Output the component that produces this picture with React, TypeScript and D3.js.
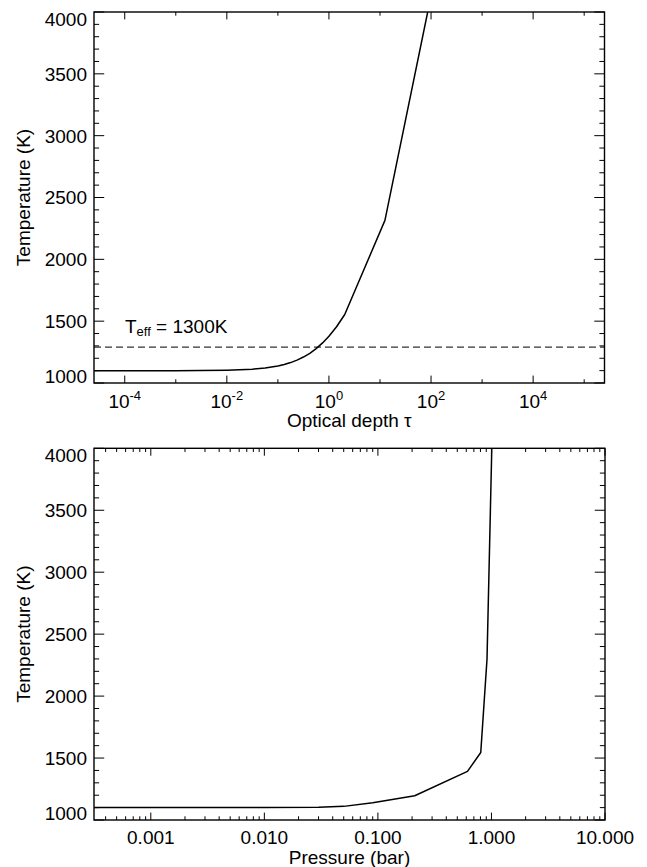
import React from "react";
import * as d3 from "d3";

// ---- Data ----
const tauValues = [
  2.5e-5, 1e-3, 3e-3, 1e-2, 0.0178, 0.0316, 0.0562, 0.1, 0.133, 0.178, 0.237, 0.316,
  0.422, 0.562, 0.75, 1.0, 1.41, 2.04, 12.5, 86,
];
const tauTemps = [
  1100, 1100, 1101, 1104, 1107, 1112, 1122, 1138, 1150, 1165, 1185, 1210,
  1240, 1278, 1324, 1378, 1455, 1554, 2315, 4000,
];

const pressureValues = [3.16e-4, 0.01, 0.03, 0.05, 0.09, 0.211, 0.615, 0.805, 0.914, 1.007];
const pressureTemps = [1100, 1100, 1102, 1110, 1140, 1196, 1392, 1545, 2300, 4000];

const teffLine = 1290;
const tauDomain = [2.5e-5, 2.5e5];
const pressureDomain = [3.16e-4, 10];
const tempDomain = [1000, 4000];

const tauMajorTicks = [1e-4, 1e-2, 1, 1e2, 1e4];
const tauMinorTicks = [1e-3, 1e-1, 10, 1e3, 1e5];
const pressureMajorTicks = [0.001, 0.01, 0.1, 1, 10];
const pressureTickLabels = ["0.001", "0.010", "0.100", "1.000", "10.000"];
const tempMajorTicks = [1000, 1500, 2000, 2500, 3000, 3500, 4000];

const FONT = "'Liberation Sans', Arial, Helvetica, sans-serif";
const FS = 19;

type Box = { left: number; right: number; top: number; bottom: number };

function YAxis({ y, box }: { y: d3.ScaleLinear<number, number>; box: Box }) {
  const minor = d3.range(tempDomain[0], tempDomain[1] + 1, 100);
  const W = box.right - box.left;
  const majLen = 0.02 * W;
  return (
    <g>
      {minor.map((t) => {
        const major = tempMajorTicks.includes(t);
        const len = major ? majLen : majLen / 2;
        const yy = y(t);
        return (
          <g key={t}>
            <line x1={box.left} x2={box.left + len} y1={yy} y2={yy} stroke="#000" strokeWidth={1} />
            <line x1={box.right} x2={box.right - len} y1={yy} y2={yy} stroke="#000" strokeWidth={1} />
          </g>
        );
      })}
      {tempMajorTicks.map((t, i) => {
        const yy = y(t);
        let base = yy + FS * 0.36;
        if (i === 0) base = yy;
        if (i === tempMajorTicks.length - 1) base = yy + FS * 0.716;
        return (
          <text key={t} x={box.left - 7} y={base} textAnchor="end" fontSize={FS} fontFamily={FONT}>
            {t}
          </text>
        );
      })}
      <text
        transform={`translate(${29.5},${(box.top + box.bottom) / 2}) rotate(-90)`}
        textAnchor="middle"
        fontSize={FS}
        fontFamily={FONT}
      >
        Temperature (K)
      </text>
    </g>
  );
}

function Frame({ box }: { box: Box }) {
  return (
    <rect
      x={box.left}
      y={box.top}
      width={box.right - box.left}
      height={box.bottom - box.top}
      fill="none"
      stroke="#000"
      strokeWidth={1.4}
    />
  );
}

function XTicks({ xs, box, len }: { xs: number[]; box: Box; len: number }) {
  return (
    <g>
      {xs.map((xx, i) => (
        <g key={i}>
          <line x1={xx} x2={xx} y1={box.bottom} y2={box.bottom - len} stroke="#000" strokeWidth={1} />
          <line x1={xx} x2={xx} y1={box.top} y2={box.top + len} stroke="#000" strokeWidth={1} />
        </g>
      ))}
    </g>
  );
}

export default function App() {
  const topBox: Box = { left: 94, right: 604.5, top: 12, bottom: 383 };
  const botBox: Box = { left: 94, right: 605, top: 448.3, bottom: 820 };

  const xTau = d3.scaleLog().domain(tauDomain).range([topBox.left, topBox.right]);
  const yTop = d3.scaleLinear().domain(tempDomain).range([topBox.bottom, topBox.top]);
  const xP = d3.scaleLog().domain(pressureDomain).range([botBox.left, botBox.right]);
  const yBot = d3.scaleLinear().domain(tempDomain).range([botBox.bottom, botBox.top]);

  const topLine = d3
    .line<number>()
    .x((_, i) => xTau(tauValues[i]))
    .y((d) => yTop(d))(tauTemps) as string;
  const botLine = d3
    .line<number>()
    .x((_, i) => xP(pressureValues[i]))
    .y((d) => yBot(d))(pressureTemps) as string;

  const topXMaj = 0.02 * (topBox.bottom - topBox.top);
  const botXMaj = 0.02 * (botBox.bottom - botBox.top);

  const pMinor = xP
    .ticks()
    .filter((v) => !pressureMajorTicks.some((m) => Math.abs(v / m - 1) < 1e-6));

  return (
    <svg
      width={647}
      height={867}
      style={{ position: "absolute", left: 0, top: 0, background: "#fff" }}
    >
      <defs>
        <clipPath id="clipTop">
          <rect x={topBox.left} y={topBox.top} width={topBox.right - topBox.left} height={topBox.bottom - topBox.top} />
        </clipPath>
        <clipPath id="clipBot">
          <rect x={botBox.left} y={botBox.top} width={botBox.right - botBox.left} height={botBox.bottom - botBox.top} />
        </clipPath>
      </defs>

      {/* Top panel */}
      <g clipPath="url(#clipTop)">
        <line
          x1={topBox.left}
          x2={topBox.right}
          y1={yTop(teffLine)}
          y2={yTop(teffLine)}
          stroke="#333"
          strokeWidth={1.3}
          strokeDasharray="7,4"
        />
        <path d={topLine} fill="none" stroke="#000" strokeWidth={1.5} strokeLinejoin="round" />
      </g>
      <XTicks xs={tauMajorTicks.map((v) => xTau(v))} box={topBox} len={topXMaj} />
      <XTicks xs={tauMinorTicks.map((v) => xTau(v))} box={topBox} len={topXMaj / 2} />
      <YAxis y={yTop} box={topBox} />
      <Frame box={topBox} />
      {tauMajorTicks.map((v) => (
        <text key={v} x={xTau(v)} y={408} textAnchor="middle" fontSize={FS} fontFamily={FONT}>
          10
          <tspan fontSize={13} dy={-8}>
            {Math.round(Math.log10(v))}
          </tspan>
        </text>
      ))}
      <text x={(topBox.left + topBox.right) / 2} y={427} textAnchor="middle" fontSize={FS} fontFamily={FONT}>
        Optical depth τ
      </text>
      <text x={125} y={333} fontSize={FS} fontFamily={FONT}>
        T
        <tspan fontSize={13} dy={3}>
          eff
        </tspan>
        <tspan dy={-3}> = 1300K</tspan>
      </text>

      {/* Bottom panel */}
      <g clipPath="url(#clipBot)">
        <path d={botLine} fill="none" stroke="#000" strokeWidth={1.5} strokeLinejoin="round" />
      </g>
      <XTicks xs={pressureMajorTicks.map((v) => xP(v))} box={botBox} len={botXMaj} />
      <XTicks xs={pMinor.map((v) => xP(v))} box={botBox} len={botXMaj / 2} />
      <YAxis y={yBot} box={botBox} />
      <Frame box={botBox} />
      {pressureMajorTicks.map((v, i) => (
        <text key={v} x={xP(v)} y={844} textAnchor="middle" fontSize={FS} fontFamily={FONT}>
          {pressureTickLabels[i]}
        </text>
      ))}
      <text x={(botBox.left + botBox.right) / 2} y={864} textAnchor="middle" fontSize={FS} fontFamily={FONT}>
        Pressure (bar)
      </text>
    </svg>
  );
}
